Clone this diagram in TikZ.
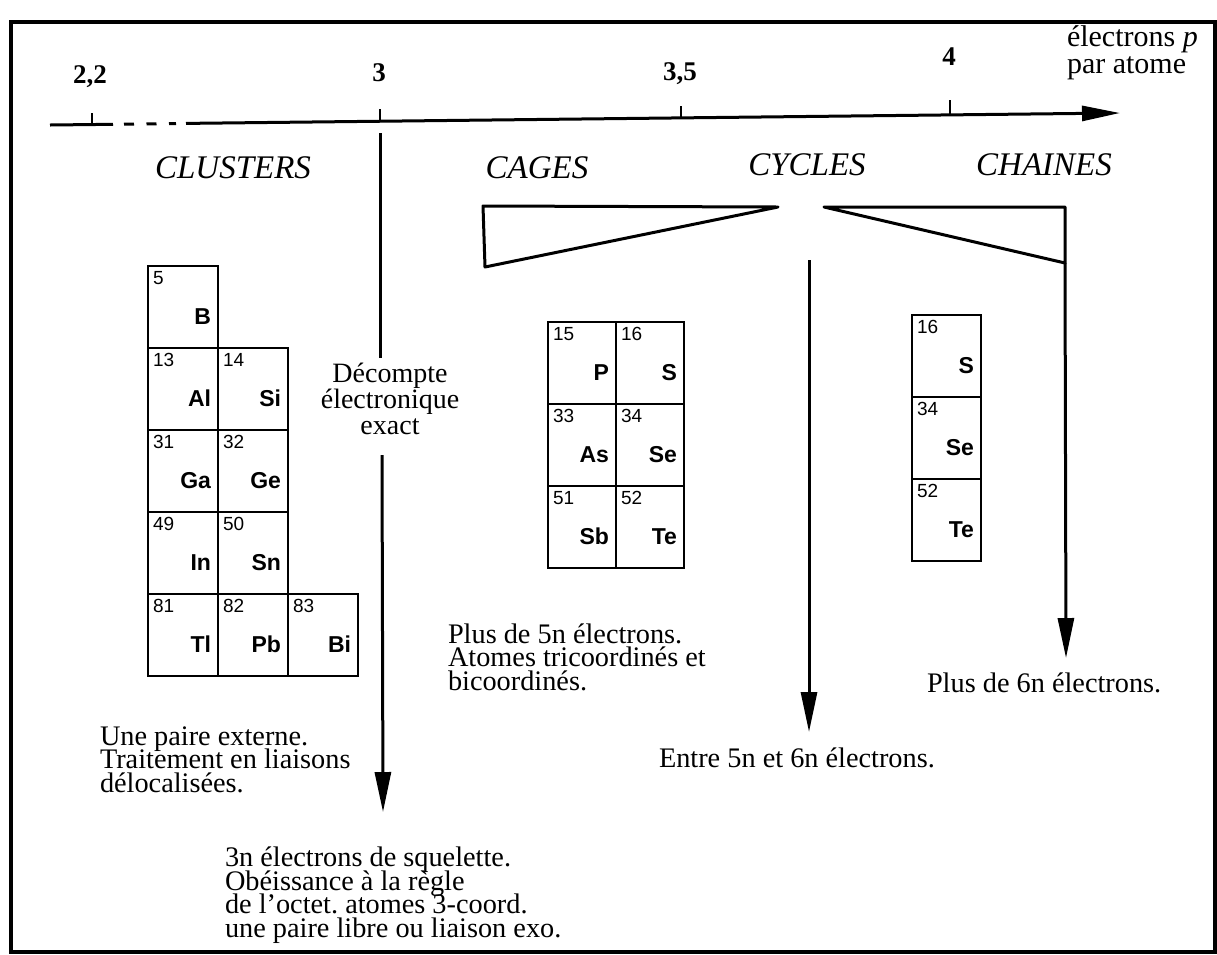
\documentclass[tikz,border=0pt]{standalone}
\usepackage{fontspec}
\setmainfont{Liberation Serif}
\newfontfamily\elfont{Liberation Sans}
\usetikzlibrary{arrows.meta}
\frenchspacing
\newcommand{\tightlines}{\lineskiplimit=-100pt\relax}
\newcommand{\elcell}[6]{%
  \node[cell, minimum width=#4pt] (#1) at (#2,#3) {};
  \node[num] (#1-n) at ([xshift=5pt,yshift=-5pt]#1.north west) {#5};
  \node[sym] (#1-s) at ([xshift=-7pt,yshift=24pt]#1.south east) {#6};
}
\begin{document}
\begin{tikzpicture}[x=1pt,y=-1pt,
  every node/.style={inner sep=0pt, outer sep=0pt},
  frame/.style={line width=3.5pt},
  axis/.style={line width=3pt},
  tickmark/.style={line width=2.5pt},
  ticklab/.style={font=\fontsize{27}{27}\selectfont\bfseries, anchor=base},
  cat/.style={font=\fontsize{33}{33}\selectfont\itshape, anchor=base},
  para/.style={font=\fontsize{28.3}{23.5}\selectfont\frenchspacing\tightlines, align=left, anchor=base west},
  cell/.style={draw, line width=2.6pt, minimum width=70pt, minimum height=82pt, anchor=north west},
  num/.style={font=\elfont\fontsize{19}{19}\selectfont, anchor=north west},
  sym/.style={font=\elfont\bfseries\fontsize{23}{23}\selectfont, anchor=base east},
  bar/.style={line width=3pt},
  arr/.style={line width=3pt, -{Triangle[length=40pt,width=16pt]}},
  wedge/.style={line width=3pt, line join=round},
]
\useasboundingbox (0,0) rectangle (1217,954);
% frame
\coordinate (fr1) at (11,22);
\coordinate (fr2) at (1215,952);
\draw[frame] (fr1) rectangle (fr2);
% axis
\coordinate (a0) at (50,125);
\coordinate (a1) at (113,124.3);
\coordinate (d0) at (124,124.2);
\coordinate (d1) at (176,123.6);
\coordinate (a2) at (186,123.4);
\coordinate (a3) at (1120,113);
\draw[axis] (a0) -- (a1);
\draw[axis, dash pattern=on 10pt off 12.5pt] (d0) -- (d1);
\draw[axis, -{Triangle[length=38pt,width=15pt]}] (a2) -- (a3);
% ticks
\coordinate (t22) at (92,124.5);
\coordinate (t3) at (380,121.3);
\coordinate (t35) at (681,117.9);
\coordinate (t4) at (950,114.9);
\draw[tickmark] (t22) -- ++(0,-12);
\draw[tickmark] (t3) -- ++(0,-12);
\draw[tickmark] (t35) -- ++(0,-12);
\draw[tickmark] (t4) -- ++(0,-15);
\node[ticklab] (l22) at (90,83) {2,2};
\node[ticklab] (l3) at (379,81) {3};
\node[ticklab] (l35) at (680,80) {3,5};
\node[ticklab] (l4) at (949,65) {4};
\node[para, font=\fontsize{30}{27}\selectfont\tightlines] (unit) at (1067,73) {électrons \textit{p}\\par atome};
% categories
\node[cat] (clusters) at (233,178) {CLUSTERS};
\node[cat] (cages) at (537,178) {CAGES};
\node[cat] (cycles) at (807,175) {CYCLES};
\node[cat] (chaines) at (1044,175) {CHAINES};
% vertical line at 3
\coordinate (v3a) at (380,133);
\coordinate (v3b) at (380,358);
\draw[bar] (v3a) -- (v3b);
\node[font=\fontsize{28}{26}\selectfont\tightlines, align=center, anchor=base] (dec) at (390,434) {Décompte\\électronique\\exact};
\coordinate (v3c) at (382,455);
\coordinate (v3d) at (383,812);
\draw[arr] (v3c) -- (v3d);
% wedges
\coordinate (wl1) at (483,206);
\coordinate (wl2) at (778,207);
\coordinate (wl3) at (485,267);
\draw[wedge] (wl1) -- (wl2) -- (wl3) -- cycle;
\coordinate (wr1) at (824,207);
\coordinate (wr2) at (1065,207);
\coordinate (wr3) at (1065,263);
\draw[wedge] (wr1) -- (wr2) -- (wr3) -- cycle;
\coordinate (wr4) at (1066,658);
\draw[arr] (wr3) -- (wr4);
\coordinate (mc1) at (809,260);
\coordinate (mc2) at (809,732);
\draw[arr] (mc1) -- (mc2);
% clusters table
\elcell{B}{148}{266}{70}{5}{B}
\elcell{Al}{148}{348}{70}{13}{Al}
\elcell{Si}{218}{348}{70}{14}{Si}
\elcell{Ga}{148}{430}{70}{31}{Ga}
\elcell{Ge}{218}{430}{70}{32}{Ge}
\elcell{In}{148}{512}{70}{49}{In}
\elcell{Sn}{218}{512}{70}{50}{Sn}
\elcell{Tl}{148}{594}{70}{81}{Tl}
\elcell{Pb}{218}{594}{70}{82}{Pb}
\elcell{Bi}{288}{594}{70}{83}{Bi}
% cages table
\elcell{P}{548}{322}{68}{15}{P}
\elcell{S}{616}{322}{68}{16}{S}
\elcell{As}{548}{404}{68}{33}{As}
\elcell{Se}{616}{404}{68}{34}{Se}
\elcell{Sb}{548}{486}{68}{51}{Sb}
\elcell{Te}{616}{486}{68}{52}{Te}
% chains table
\elcell{cS}{912}{315}{69}{16}{S}
\elcell{cSe}{912}{397}{69}{34}{Se}
\elcell{cTe}{912}{479}{69}{52}{Te}
% texts
\node[para] (tclus) at (100,792) {Une paire externe.\\Traitement en liaisons\\délocalisées.};
\node[para] (tthree) at (225,937) {3n électrons de squelette.\\Obéissance à la règle\\de l’octet. atomes 3-coord.\\une paire libre ou liaison exo.};
\node[para] (tcage) at (448,690) {Plus de 5n électrons.\\Atomes tricoordinés et\\bicoordinés.};
\node[para] (tcyc) at (659,767) {Entre 5n et 6n électrons.};
\node[para] (tchain) at (927,692) {Plus de 6n électrons.};
\end{tikzpicture}
\end{document}
